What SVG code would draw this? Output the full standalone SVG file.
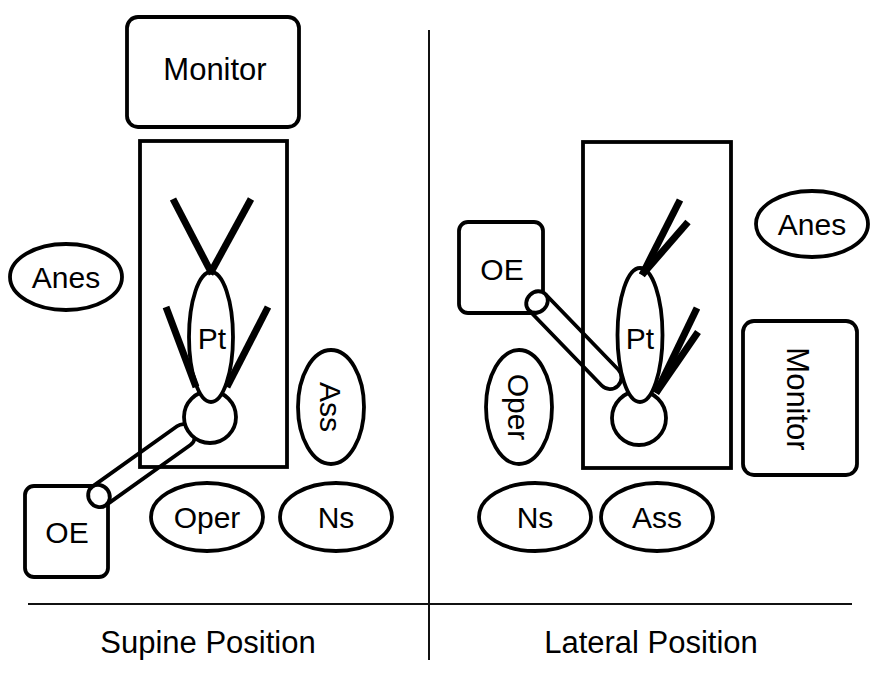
<svg xmlns="http://www.w3.org/2000/svg" width="876" height="684" viewBox="0 0 876 684">
<style>
.box{fill:#fff;stroke:#000;stroke-width:3.8}
.open{fill:none;stroke:#000;stroke-width:3.8}
.limb{stroke:#000;stroke-width:7;stroke-linecap:butt;fill:none}
.div{stroke:#111;stroke-width:2;fill:none}
text{font-family:"Liberation Sans",Arial,sans-serif;font-size:30px;fill:#000;text-anchor:middle}
.big{font-size:31px}
</style>
<rect width="876" height="684" fill="#fff"/>
<g id="dividers">
<line class="div" x1="429" y1="30" x2="429" y2="660"/>
<line class="div" x1="28" y1="604" x2="852" y2="604"/>
</g>
<g id="supine-label"><text class="big" x="208" y="653">Supine Position</text></g>
<g id="lateral-label"><text class="big" x="651" y="653">Lateral Position</text></g>

<!-- Supine -->
<g id="s-monitor"><rect class="box" x="127" y="17" width="172" height="110" rx="11"/><text class="big" x="215" y="80">Monitor</text></g>
<g id="s-table"><rect class="open" x="140" y="141" width="147" height="326"/></g>
<g id="s-anes"><ellipse class="box" cx="66" cy="277" rx="56" ry="33"/><text x="66" y="288">Anes</text></g>
<g id="s-ass"><ellipse class="box" cx="331" cy="407" rx="33" ry="57"/><text transform="translate(331,407) rotate(90)" x="0" y="10.7">Ass</text></g>
<g id="s-oper"><ellipse class="box" cx="207" cy="517" rx="56" ry="34"/><text x="207" y="528">Oper</text></g>
<g id="s-ns"><ellipse class="box" cx="336" cy="517" rx="56" ry="34"/><text x="336" y="528">Ns</text></g>
<g id="s-oe"><rect class="box" x="25" y="486" width="83" height="91" rx="9"/><text x="67" y="543">OE</text></g>
<g id="s-scope" transform="translate(99,496) rotate(-35.5)">
<path class="open" d="M0,-11.5 H104 A11.5,11.5 0 0 1 104,11.5 H0"/>
<ellipse class="box" cx="0" cy="0" rx="10.5" ry="11.5"/>
</g>
<g id="s-patient">
<circle class="box" cx="210" cy="417" r="26"/>
<ellipse class="box" cx="211" cy="337" rx="22" ry="65"/>
<text x="212" y="349">Pt</text>
<line class="limb" x1="173" y1="199" x2="212" y2="274"/>
<line class="limb" x1="251" y1="199" x2="210" y2="274"/>
<line class="limb" x1="166" y1="307" x2="196" y2="387"/>
<line class="limb" x1="268" y1="307" x2="227" y2="387"/>
</g>

<!-- Lateral -->
<g id="l-table"><rect class="open" x="583" y="142" width="148" height="326"/></g>
<g id="l-anes"><ellipse class="box" cx="812" cy="224" rx="56" ry="33"/><text x="812" y="235">Anes</text></g>
<g id="l-monitor"><rect class="box" x="743" y="321" width="114" height="154" rx="11"/><text class="big" transform="translate(798,399) rotate(90)" x="0" y="11">Monitor</text></g>
<g id="l-oper"><ellipse class="box" cx="519" cy="407" rx="33" ry="57"/><text transform="translate(519,407) rotate(90)" x="0" y="10.7">Oper</text></g>
<g id="l-ns"><ellipse class="box" cx="535" cy="517" rx="56" ry="34"/><text x="535" y="528">Ns</text></g>
<g id="l-ass"><ellipse class="box" cx="657" cy="517" rx="56" ry="34"/><text x="657" y="528">Ass</text></g>
<g id="l-oe"><rect class="box" x="459" y="222" width="84" height="91" rx="9"/><text x="502" y="280">OE</text></g>
<g id="l-scope" transform="translate(537,302) rotate(46)">
<path class="open" d="M0,-11.5 H105 A11.5,11.5 0 0 1 105,11.5 H0"/>
<ellipse class="box" cx="0" cy="0" rx="10" ry="11.5"/>
</g>
<g id="l-patient">
<circle class="box" cx="639" cy="418" r="27"/>
<ellipse class="box" cx="640" cy="335" rx="22.5" ry="67"/>
<text x="640" y="349">Pt</text>
<line class="limb" x1="642" y1="275" x2="680" y2="200"/>
<line class="limb" x1="642" y1="275" x2="688" y2="222"/>
<line class="limb" x1="656" y1="393" x2="697" y2="308"/>
<line class="limb" x1="656" y1="393" x2="698" y2="332"/>
</g>
</svg>
